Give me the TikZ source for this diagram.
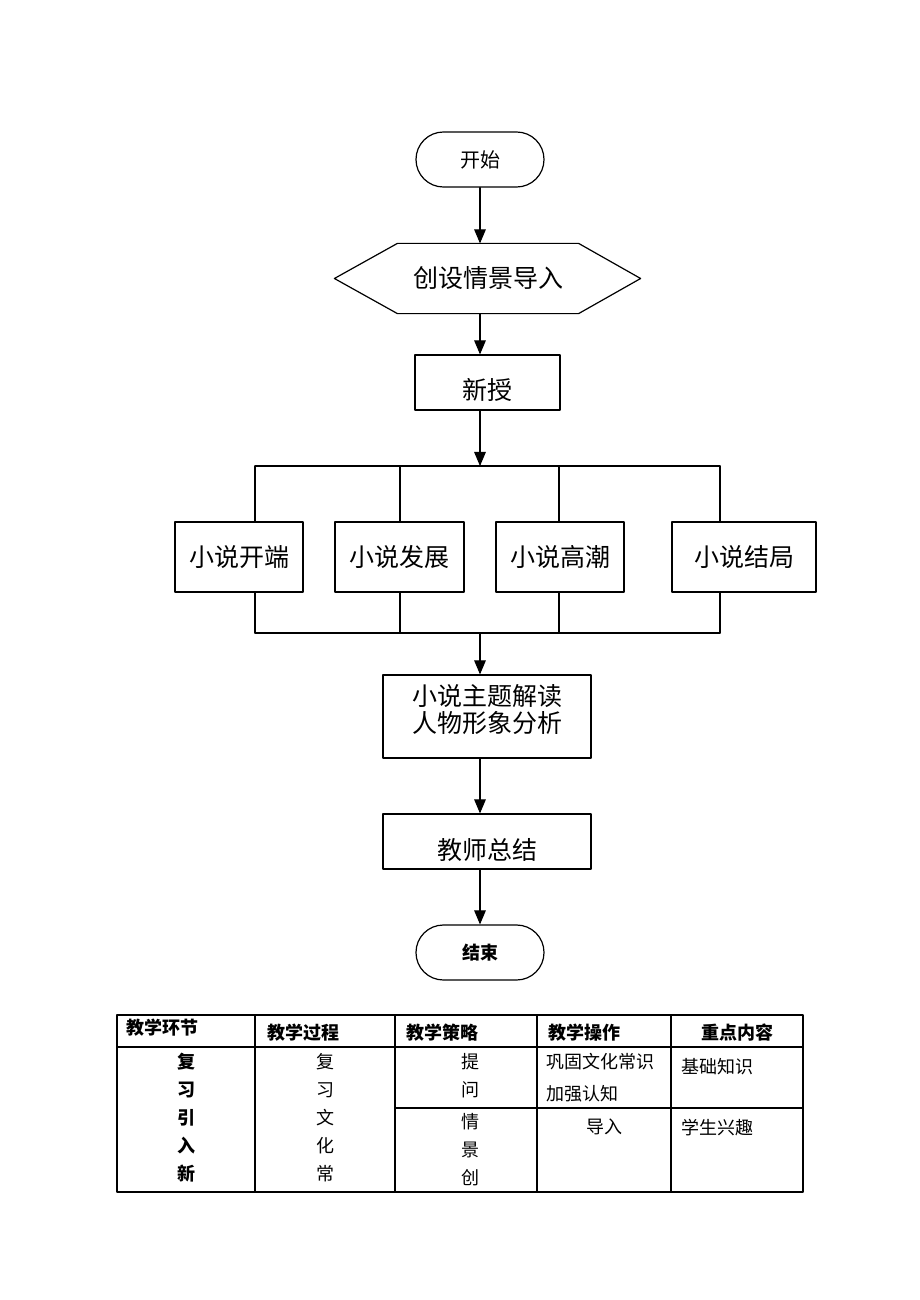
\documentclass[tikz,border=0pt]{standalone}
\usepackage{fontspec}
\setmainfont{Noto Sans CJK SC}
\usetikzlibrary{arrows, calc}

\begin{document}
\begin{tikzpicture}[line cap=round,line join=round,>=triangle 45,x=0.5pt,y=-0.5pt,line width=0.6pt,
  box/.style={draw,rectangle,inner sep=0pt,font=\fontsize{12.5}{13.5}\selectfont},
  term/.style={draw,rectangle,rounded corners=13.7pt,minimum width=64pt,minimum height=27.5pt,inner sep=0pt},
  cell/.style={inner sep=0pt,font=\fontsize{9}{11}\selectfont},
  cellbold/.style={inner sep=0pt,font=\fontsize{9}{11}\selectfont\bfseries}]
\useasboundingbox (0,0) rectangle (920,1300);

% flow
\node[term,font=\fontsize{10}{12}\selectfont] (start) at (480,159.5) {开始};
\node[box,draw=none,minimum width=90pt,minimum height=34.5pt] (hex) at (488,278.5) {创设情景导入};
\draw (hex.north west) -- (hex.north east) -- ([xshift=31pt]hex.east) -- (hex.south east)
  -- (hex.south west) -- ([xshift=-31.5pt]hex.west) -- cycle;
\node[box,minimum width=72.5pt,minimum height=27.5pt] (xinshou) at (487.5,382.5) {\raisebox{-8.5pt}[0pt][0pt]{新授}};

\node[box,minimum width=64pt,minimum height=35pt] (b1) at (239,557) {小说开端};
\node[box,minimum width=64.5pt,minimum height=35pt] (b2) at (399.5,557) {小说发展};
\node[box,minimum width=64pt,minimum height=35pt] (b3) at (560,557) {小说高潮};
\node[box,minimum width=72pt,minimum height=35pt] (b4) at (744,557) {小说结局};

\coordinate (t1) at (255,466);
\coordinate (t2) at (400,466);
\coordinate (t3) at (559,466);
\coordinate (t4) at (720,466);
\coordinate (u1) at (255,633);
\coordinate (u2) at (400,633);
\coordinate (u3) at (559,633);
\coordinate (u4) at (720,633);

\node[box,align=center,minimum width=104pt,minimum height=41.5pt] (zhuti) at (487,716.5) {小说主题解读\\人物形象分析\\[-5pt]};
\node[box,minimum width=104pt,minimum height=27.5pt] (zongjie) at (487,841.5) {\raisebox{-9pt}[0pt][0pt]{教师总结}};
\node[term,font=\fontsize{9}{11}\selectfont\bfseries] (stop) at (480,952.5) {结束};

\draw[->] (start.south) -- (start.south |- hex.north);
\draw[->] (start.south |- hex.south) -- (start.south |- xinshou.north);
\draw[->] (start.south |- xinshou.south) -- (start.south |- t1);
\draw (t1) -- (t4);
\draw (u1) -- (u4);
\foreach \i in {1,...,4} {
  \draw (t\i) -- (t\i |- b\i.north);
  \draw (u\i |- b\i.south) -- (u\i);
}
\draw[->] (start.south |- u1) -- (start.south |- zhuti.north);
\draw[->] (start.south |- zhuti.south) -- (start.south |- zongjie.north);
\draw[->] (start.south |- zongjie.south) -- (stop.north);

% table
\draw (117,1015) rectangle (803,1192);
\draw (117,1047) -- (803,1047);
\draw (395,1108) -- (803,1108);
\foreach \x in {255,395,537,671}
  \draw (\x,1015) -- (\x,1192);

\node[cellbold,anchor=west] (h1) at (126,1028) {教学环节};
\node[cellbold] (h2) at (303,1033) {教学过程};
\node[cellbold] (h3) at (442,1033) {教学策略};
\node[cellbold] (h4) at (584,1033) {教学操作};
\node[cellbold] (h5) at (737,1033) {重点内容};

\foreach \c [count=\i] in {复,习,引,入,新}
  \node[cellbold] (p\i) at (186,1034+28*\i) {\c};
\foreach \c [count=\i] in {复,习,文,化,常}
  \node[cell] (q\i) at (325,1034+28*\i) {\c};
\foreach \c [count=\i] in {提,问}
  \node[cell] (r\i) at (470,1034+28*\i) {\c};
\foreach \c [count=\i] in {情,景,创}
  \node[cell] (s\i) at (470,1094+28*\i) {\c};

\node[cell,anchor=west] (op1) at (546,1062) {巩固文化常识};
\node[cell,anchor=west] (op2) at (546,1094) {加强认知};
\node[cell] (op3) at (604,1127) {导入};
\node[cell,anchor=west] (k1) at (681,1067) {基础知识};
\node[cell,anchor=west] (k2) at (681,1128) {学生兴趣};
\end{tikzpicture}
\end{document}
